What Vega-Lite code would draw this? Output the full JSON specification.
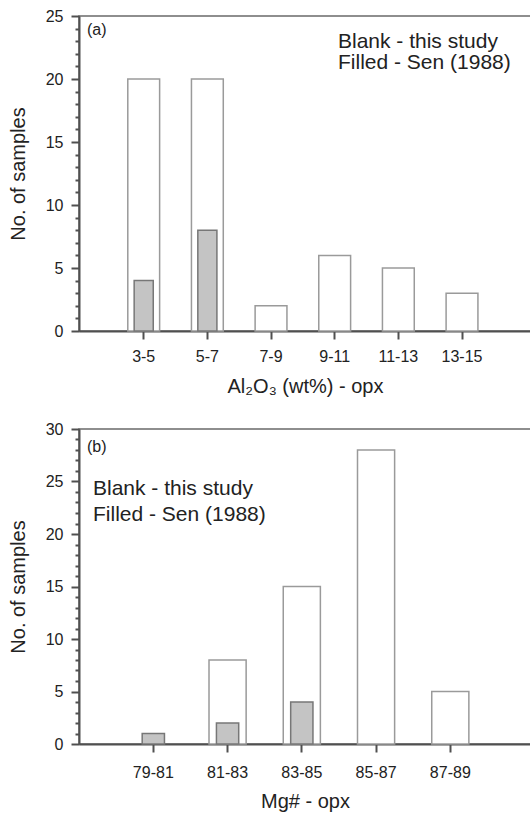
{
  "$schema": "https://vega.github.io/schema/vega-lite/v6.json",
  "padding": {"left": 7, "top": 7, "right": 0, "bottom": 0},
  "spacing": 23,
  "config": {
    "font": "Liberation Sans",
    "view": {"stroke": "#6a6a6a", "strokeWidth": 1.5},
    "axis": {
      "grid": false,
      "zindex": 1,
      "domainColor": "#505050",
      "domainWidth": 2,
      "tickColor": "#505050",
      "tickWidth": 2,
      "tickSize": 8,
      "labelFontSize": 16,
      "labelColor": "#222222",
      "titleFontSize": 20,
      "titleFontWeight": "normal",
      "titleColor": "#222222"
    },
    "legend": {"labelColor": "#222222", "labelLimit": 0}
  },
  "vconcat": [
    {
      "width": 452,
      "height": 315,
      "resolve": {"axis": {"y": "independent", "x": "independent"}},
      "layer": [
        {
          "data": {"values": [
            {"range": "3-5", "source": "this study", "n": 20},
            {"range": "5-7", "source": "this study", "n": 20},
            {"range": "7-9", "source": "this study", "n": 2},
            {"range": "9-11", "source": "this study", "n": 6},
            {"range": "11-13", "source": "this study", "n": 5},
            {"range": "13-15", "source": "this study", "n": 3},
            {"range": "3-5", "source": "Sen (1988)", "n": 4},
            {"range": "5-7", "source": "Sen (1988)", "n": 8}
          ]},
          "encoding": {
            "x": {"field": "range", "type": "nominal", "sort": ["3-5", "5-7", "7-9", "9-11", "11-13", "13-15"],
              "scale": {"paddingInner": 0.5, "paddingOuter": 0.8, "align": 0.479},
              "axis": {"title": "Al₂O₃ (wt%) - opx", "labelAngle": 0, "labelPadding": 9, "titlePadding": 12}},
            "y": {"field": "n", "type": "quantitative", "stack": null,
              "scale": {"domain": [0, 25], "nice": false},
              "axis": {"title": "No. of samples", "values": [0,1,2,3,4,5,6,7,8,9,10,11,12,13,14,15,16,17,18,19,20,21,22,23,24,25],
                "labelExpr": "datum.value % 5 === 0 ? datum.label : ''", "labelOverlap": false,
                "tickSize": {"condition": {"test": "datum.value % 5 === 0", "value": 8}, "value": 4},
                "labelPadding": 8, "titlePadding": 17}},
            "fill": {"field": "source", "type": "nominal",
              "scale": {"domain": ["this study", "Sen (1988)"], "range": ["#ffffff", "#c4c4c4"]},
              "legend": {"orient": "none", "legendX": 238, "legendY": 15, "title": null, "symbolSize": 0, "symbolOpacity": 0, "symbolStrokeWidth": 0, "labelOffset": 0, "labelFontSize": 21, "rowPadding": -1, "padding": 0,
                "labelExpr": "datum.value === 'this study' ? 'Blank - this study' : 'Filled - Sen (1988)'"}}
          },
          "layer": [
            {"transform": [{"filter": "datum.source === 'this study'"}],
             "mark": {"type": "bar", "stroke": "#9a9a9a", "strokeWidth": 1.5}},
            {"transform": [{"filter": "datum.source === 'Sen (1988)'"}],
             "mark": {"type": "bar", "width": {"band": 0.6}, "stroke": "#777777", "strokeWidth": 1.5}}
          ]
        },
        {
          "data": {"values": [{"label": "(a)"}]},
          "mark": {"type": "text", "align": "left", "baseline": "alphabetic", "dx": 8, "dy": 19, "fontSize": 16, "color": "#222222"},
          "encoding": {
            "x": {"value": 0},
            "y": {"datum": 25, "type": "quantitative", "axis": null},
            "text": {"field": "label"}
          }
        }
      ]
    },
    {
      "width": 452,
      "height": 315,
      "resolve": {"axis": {"y": "independent", "x": "independent"}},
      "layer": [
        {
          "data": {"values": [
            {"range": "81-83", "source": "this study", "n": 8},
            {"range": "83-85", "source": "this study", "n": 15},
            {"range": "85-87", "source": "this study", "n": 28},
            {"range": "87-89", "source": "this study", "n": 5},
            {"range": "79-81", "source": "Sen (1988)", "n": 1},
            {"range": "81-83", "source": "Sen (1988)", "n": 2},
            {"range": "83-85", "source": "Sen (1988)", "n": 4}
          ]},
          "encoding": {
            "x": {"field": "range", "type": "nominal", "sort": ["79-81", "81-83", "83-85", "85-87", "87-89"],
              "scale": {"domain": ["79-81", "81-83", "83-85", "85-87", "87-89"], "paddingInner": 0.5, "paddingOuter": 0.794, "align": 0.473},
              "axis": {"title": "Mg# - opx", "labelAngle": 0, "labelPadding": 12, "titlePadding": 11}},
            "y": {"field": "n", "type": "quantitative", "stack": null,
              "scale": {"domain": [0, 30], "nice": false},
              "axis": {"title": "No. of samples", "values": [0,1,2,3,4,5,6,7,8,9,10,11,12,13,14,15,16,17,18,19,20,21,22,23,24,25,26,27,28,29,30],
                "labelExpr": "datum.value % 5 === 0 ? datum.label : ''", "labelOverlap": false,
                "tickSize": {"condition": {"test": "datum.value % 5 === 0", "value": 8}, "value": 4},
                "labelPadding": 8, "titlePadding": 17}},
            "fill": {"field": "source", "type": "nominal",
              "scale": {"domain": ["this study", "Sen (1988)"], "range": ["#ffffff", "#c4c4c4"]},
              "legend": {"orient": "none", "legendX": -7, "legendY": 49, "title": null, "symbolSize": 0, "symbolOpacity": 0, "symbolStrokeWidth": 0, "labelOffset": 0, "labelFontSize": 21, "rowPadding": 4.5, "padding": 0,
                "labelExpr": "datum.value === 'this study' ? 'Blank - this study' : 'Filled - Sen (1988)'"}}
          },
          "layer": [
            {"transform": [{"filter": "datum.source === 'this study'"}],
             "mark": {"type": "bar", "stroke": "#9a9a9a", "strokeWidth": 1.5}},
            {"transform": [{"filter": "datum.source === 'Sen (1988)'"}],
             "mark": {"type": "bar", "width": {"band": 0.6}, "stroke": "#777777", "strokeWidth": 1.5}}
          ]
        },
        {
          "data": {"values": [{"label": "(b)"}]},
          "mark": {"type": "text", "align": "left", "baseline": "alphabetic", "dx": 8, "dy": 23, "fontSize": 16, "color": "#222222"},
          "encoding": {
            "x": {"value": 0},
            "y": {"datum": 30, "type": "quantitative", "axis": null},
            "text": {"field": "label"}
          }
        }
      ]
    }
  ],
  "resolve": {"scale": {"fill": "independent"}, "legend": {"fill": "independent"}}
}
